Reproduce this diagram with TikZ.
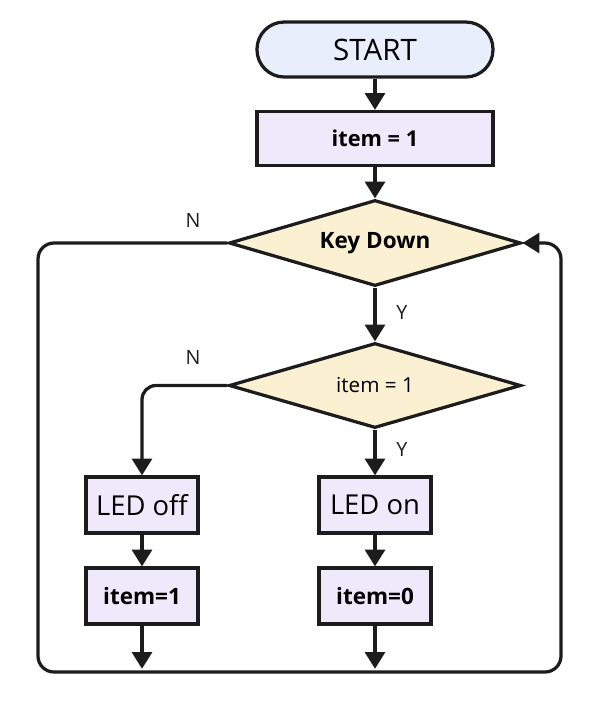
\documentclass[tikz,border=0pt]{standalone}
\usepackage{fontspec}
\setmainfont{Open Sans}
\usetikzlibrary{shapes.geometric,arrows.meta}
\definecolor{ink}{HTML}{1C1C1C}
\definecolor{termfill}{HTML}{E8EEFC}
\definecolor{procfill}{HTML}{EEEAFB}
\definecolor{condfill}{HTML}{FCF0D2}
\begin{document}
\begin{tikzpicture}[line width=2.3pt, draw=ink,
  term/.style={draw=ink, fill=termfill, rounded corners=0.68cm, minimum width=5.9cm, minimum height=1.375cm, font=\fontsize{21}{24}\selectfont},
  proc/.style={draw=ink, fill=procfill, minimum width=#1, minimum height=1.35cm, inner sep=0pt},
  cond/.style={draw=ink, fill=condfill, diamond, aspect=3.4, minimum width=7.3cm, minimum height=2.15cm, inner sep=0pt},
  flow/.style={draw=ink, -{Triangle[width=0.5cm,length=0.42cm]}},
  lbl/.style={font=\fontsize{14}{16}\selectfont, text=ink}]
\useasboundingbox (0,0) rectangle (15,-17.825);
\node[term] (start) at (9.375,-1.2375) {START};
\node[proc=5.9cm, font=\fontsize{15.5}{18}\selectfont\bfseries] (init) at (9.375,-3.4625) {item = 1};
\node[cond, font=\fontsize{16}{18}\selectfont\bfseries] (key) at (9.375,-6.075) {Key Down};
\node[cond, minimum height=2.125cm, font=\fontsize{14.7}{17}\selectfont] (test) at (9.375,-9.6375) {item = 1};
\node[proc=2.8cm, minimum height=1.4cm, font=\fontsize{19.5}{22}\selectfont] (ledoff) at (3.55,-12.625) {LED off};
\node[proc=2.8cm, minimum height=1.4cm, font=\fontsize{16}{18}\selectfont\bfseries] (setone) at (3.55,-14.9) {item=1};
\node[proc=2.8cm, minimum height=1.4cm, font=\fontsize{19.5}{22}\selectfont] (ledon) at (9.375,-12.625) {LED on};
\node[proc=2.8cm, minimum height=1.4cm, font=\fontsize{16}{18}\selectfont\bfseries] (setzero) at (9.375,-14.9) {item=0};
\coordinate (endoff) at (3.55,-16.72);
\coordinate (endon) at (9.375,-16.72);
\coordinate (loopbl) at (0.95,-16.8);
\coordinate (loopbr) at (14.025,-16.8);
\draw[flow] (start) -- (init);
\draw[flow] (init) -- (key);
\draw[flow] (key) -- (test);
\draw[flow] (test) -- (ledon);
\draw[flow, rounded corners=0.35cm] (test.west) -| (ledoff.north);
\draw[flow] (ledoff) -- (setone);
\draw[flow] (ledon) -- (setzero);
\draw[flow] (setone) -- (endoff);
\draw[flow] (setzero) -- (endon);
\draw[flow, rounded corners=0.4cm] (key.west) -| (loopbl) -- (loopbr) |- (key.east);
\node[lbl] (nkey) at (4.825,-5.5) {N};
\node[lbl] (ykey) at (10.05,-7.8) {Y};
\node[lbl] (ntest) at (4.825,-8.925) {N};
\node[lbl] (ytest) at (10.05,-11.225) {Y};
\end{tikzpicture}
\end{document}
